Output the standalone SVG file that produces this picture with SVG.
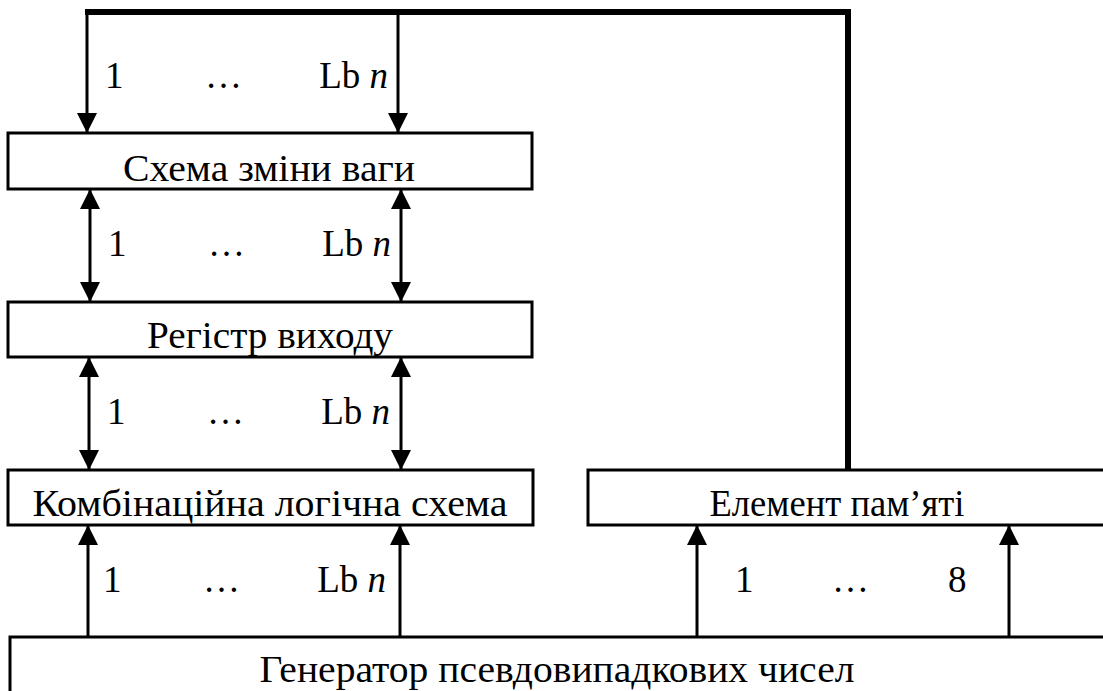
<svg xmlns="http://www.w3.org/2000/svg" width="1103" height="691" viewBox="0 0 1103 691">
<style>
.box{fill:#fff;stroke:#000;stroke-width:3}
.t{font-family:'Liberation Serif','DejaVu Serif','Noto Serif',serif;font-size:37px;fill:#000}
.c{text-anchor:middle}
.e{text-anchor:end}
.w{fill:none;stroke:#000;stroke-width:3}
.bus{fill:none;stroke:#000;stroke-width:6;stroke-linejoin:miter}
</style>
<defs>
<marker id="ah" markerUnits="userSpaceOnUse" markerWidth="20" markerHeight="20" refX="20" refY="10" orient="auto-start-reverse" viewBox="0 0 20 20">
<path d="M0,0 L20,10 L0,20 z" fill="#000"/>
</marker>
</defs>
<g id="connectors">
<polyline class="bus" points="85,12 848,12 848,470"/>
<line class="w" x1="87" y1="12" x2="87" y2="133" marker-end="url(#ah)"/>
<line class="w" x1="398" y1="12" x2="398" y2="133" marker-end="url(#ah)"/>
<line class="w" x1="90" y1="189" x2="90" y2="302" marker-start="url(#ah)" marker-end="url(#ah)"/>
<line class="w" x1="401" y1="189" x2="401" y2="302" marker-start="url(#ah)" marker-end="url(#ah)"/>
<line class="w" x1="89" y1="357" x2="89" y2="470" marker-start="url(#ah)" marker-end="url(#ah)"/>
<line class="w" x1="401" y1="357" x2="401" y2="470" marker-start="url(#ah)" marker-end="url(#ah)"/>
<line class="w" x1="88" y1="637" x2="88" y2="525" marker-end="url(#ah)"/>
<line class="w" x1="400" y1="637" x2="400" y2="525" marker-end="url(#ah)"/>
<line class="w" x1="697" y1="637" x2="697" y2="525" marker-end="url(#ah)"/>
<line class="w" x1="1009" y1="637" x2="1009" y2="525" marker-end="url(#ah)"/>
<text class="t" x="105" y="88">1</text>
<text class="t" x="205" y="88">…</text>
<text class="t e" x="388" y="88">Lb <tspan font-style="italic">n</tspan></text>
<text class="t" x="108" y="256">1</text>
<text class="t" x="208" y="256">…</text>
<text class="t e" x="391" y="256">Lb <tspan font-style="italic">n</tspan></text>
<text class="t" x="107" y="424">1</text>
<text class="t" x="207" y="424">…</text>
<text class="t e" x="390" y="424">Lb <tspan font-style="italic">n</tspan></text>
<text class="t" x="103" y="592">1</text>
<text class="t" x="203" y="592">…</text>
<text class="t e" x="386" y="592">Lb <tspan font-style="italic">n</tspan></text>
<text class="t" x="735" y="592">1</text>
<text class="t" x="832" y="592">…</text>
<text class="t" x="948" y="592">8</text>
</g>
<g id="n1">
<rect class="box" x="8" y="133" width="524" height="56"/>
<text class="t c" x="269" y="181" textLength="292" lengthAdjust="spacingAndGlyphs">Схема зміни ваги</text>
</g>
<g id="n2">
<rect class="box" x="8" y="302" width="524" height="55"/>
<text class="t c" x="270" y="348" textLength="246" lengthAdjust="spacingAndGlyphs">Регістр виходу</text>
</g>
<g id="n3">
<rect class="box" x="8" y="470" width="525" height="55"/>
<text class="t c" x="270" y="516" textLength="475" lengthAdjust="spacingAndGlyphs">Комбінаційна логічна схема</text>
</g>
<g id="n4">
<rect class="box" x="588" y="470" width="530" height="55"/>
<text class="t c" x="837" y="516" textLength="255" lengthAdjust="spacingAndGlyphs">Елемент пам’яті</text>
</g>
<g id="n5">
<rect class="box" x="10" y="637" width="1110" height="70"/>
<text class="t c" x="557" y="682" textLength="595" lengthAdjust="spacingAndGlyphs">Генератор псевдовипадкових чисел</text>
</g>
</svg>
